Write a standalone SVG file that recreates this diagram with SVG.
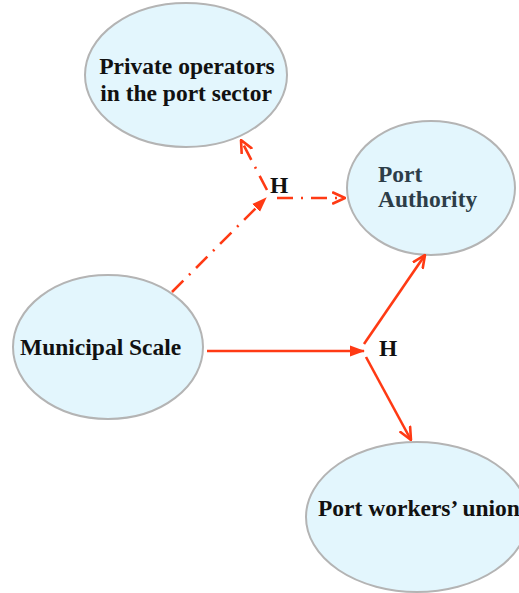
<svg xmlns="http://www.w3.org/2000/svg" width="519" height="593" viewBox="0 0 519 593">
<defs>
<marker id="open" viewBox="0 0 14 14" refX="13" refY="7" markerWidth="14" markerHeight="14" markerUnits="userSpaceOnUse" orient="auto">
<path d="M1,1.5 L13,7 L1,12.5" fill="none" stroke="#ff3a14" stroke-width="2.6" stroke-linecap="round" stroke-linejoin="round"/>
</marker>
<marker id="filled" viewBox="0 0 15 12" refX="14" refY="6" markerWidth="15" markerHeight="12" markerUnits="userSpaceOnUse" orient="auto">
<path d="M0,0.5 L15,6 L0,11.5 Z" fill="#ff3a14"/>
</marker>
</defs>
<style>
.node ellipse{fill:#e3f6fd;stroke:#b4b4b4;stroke-width:2}
.lbl{font-family:"Liberation Serif","Times New Roman",serif;font-weight:bold;font-size:23.5px;fill:#111}
.pa{fill:#2d3d48}
.edge{fill:none;stroke:#ff3a14;stroke-width:2.6}
.dd{stroke-dasharray:16 8 2 8}
</style>
<g id="private-operators" class="node">
<ellipse cx="186" cy="75" rx="101" ry="72"/>
<text class="lbl" x="187" y="74" text-anchor="middle">Private operators</text>
<text class="lbl" x="186" y="101" text-anchor="middle">in the port sector</text>
</g>
<g id="port-authority" class="node">
<ellipse cx="431" cy="188" rx="84" ry="67"/>
<text class="lbl pa" x="378" y="182">Port</text>
<text class="lbl pa" x="378" y="207">Authority</text>
</g>
<g id="municipal-scale" class="node">
<ellipse cx="108" cy="347" rx="95" ry="72"/>
<text class="lbl" x="20" y="355">Municipal Scale</text>
</g>
<g id="port-workers-union" class="node">
<ellipse cx="417" cy="517" rx="111" ry="75"/>
<text class="lbl" x="318" y="516">Port workers’ union</text>
</g>
<g id="connectors">
<line class="edge dd" x1="172" y1="292" x2="266" y2="198" marker-end="url(#filled)"/>
<line class="edge dd" x1="267" y1="190" x2="241" y2="140" marker-end="url(#open)"/>
<line class="edge dd" x1="277" y1="198" x2="345" y2="198" marker-end="url(#open)"/>
<line class="edge" x1="207" y1="351" x2="364" y2="351" marker-end="url(#filled)"/>
<line class="edge" x1="364" y1="344" x2="425" y2="255" marker-end="url(#open)"/>
<line class="edge" x1="366" y1="357" x2="411" y2="440" marker-end="url(#open)"/>
<text class="lbl" x="270" y="193">H</text>
<text class="lbl" x="379" y="356">H</text>
</g>
</svg>
